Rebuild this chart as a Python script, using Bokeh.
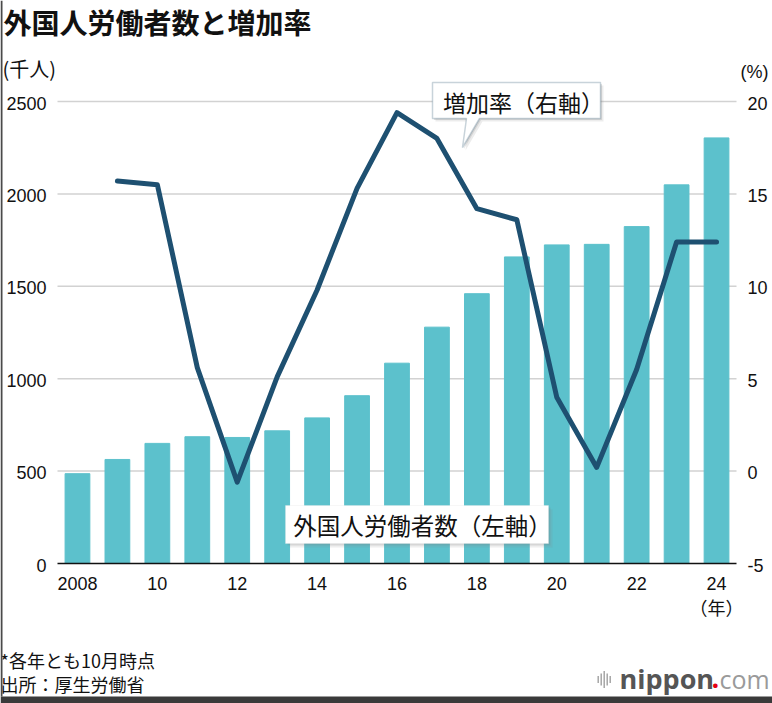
from bokeh.plotting import figure
from bokeh.models import Range1d, Label, PolyAnnotation
from bokeh.core.properties import value
from bokeh.embed import file_html
from bokeh.resources import INLINE

# ---- data ----
years = list(range(2008, 2025))
workers = [486, 563, 650, 686, 682, 718, 788, 908, 1084, 1279, 1460, 1659, 1724, 1727, 1823, 2049, 2303]
rate_years = list(range(2009, 2025))
rates = [15.7, 15.5, 5.6, -0.6, 5.1, 9.8, 15.3, 19.4, 18.0, 14.2, 13.6, 4.0, 0.2, 5.5, 12.4, 12.4]
left_ticks = [0, 500, 1000, 1500, 2000, 2500]
left_tick_labels = ["0", "500", "1000", "1500", "2000", "2500"]
right_ticks = [-5, 0, 5, 10, 15, 20]
right_tick_labels = ["-5", "0", "5", "10", "15", "20"]
x_ticks = [2008, 2010, 2012, 2014, 2016, 2018, 2020, 2022, 2024]
x_tick_labels = ["2008", "10", "12", "14", "16", "18", "20", "22", "24"]

title_text = "外国人労働者数と増加率"
left_unit = "(千人)"
right_unit = "(%)"
x_unit = "（年）"
rate_label = "増加率（右軸）"
workers_label = "外国人労働者数（左軸）"
note1 = "*各年とも10月時点"
note2 = "出所：厚生労働省"

BAR = "#5cc1cc"
LINE = "#1e5071"
INK = "#111111"
JP = "Noto Sans CJK JP"
NUM = "Liberation Sans"

W, H = 772, 703
# plot area in canvas pixels
FX0, FX1 = 57, 736
FY_TOP, FY_BOT = 101, 563
PXU = (FX1 - FX0) / 17.0          # pixels per year
PYU = (FY_BOT - FY_TOP) / 2500.0  # pixels per thousand

xs0 = 2007.5 - FX0 / PXU
xs1 = xs0 + W / PXU
ys1 = FY_BOT / PYU
ys0 = ys1 - H / PYU


def xd(px):
    return xs0 + px / PXU


def yd(py):
    return ys1 - py / PYU


p = figure(width=W, height=H, output_backend="svg", toolbar_location=None,
           x_range=Range1d(xs0, xs1), y_range=Range1d(ys0, ys1),
           x_axis_location=None, y_axis_location=None, min_border=0,
           background_fill_color="white", border_fill_color="white")
p.outline_line_color = None
p.grid.visible = False
p.extra_y_ranges = {"pct": Range1d(ys0 / 100.0 - 5, ys1 / 100.0 - 5)}

# grid lines
n_grid = len(left_ticks) - 1
p.segment(x0=[xd(FX0)] * n_grid, x1=[xd(FX1)] * n_grid, y0=left_ticks[1:], y1=left_ticks[1:],
          line_color="#d2d2d2", line_width=1.5)

# data marks
p.vbar(x=years, top=workers, width=0.62, color=BAR)
p.segment(x0=[xd(FX0)], x1=[xd(FX1)], y0=[0], y1=[0], line_color=INK, line_width=1.6)
p.line(rate_years, rates, y_range_name="pct", line_width=5, color=LINE,
       line_join="round", line_cap="round")

# tick labels
p.text(x=[xd(46)] * len(left_ticks), y=left_ticks, text=left_tick_labels,
       text_font=value(NUM), text_font_size=value("18px"), text_color=INK,
       text_align="right", text_baseline="middle", y_offset=1.5)
p.text(x=[xd(747)] * len(right_ticks), y=right_ticks, text=right_tick_labels,
       y_range_name="pct", text_font=value(NUM), text_font_size=value("18px"), text_color=INK,
       text_align="left", text_baseline="middle", y_offset=1.5)
p.text(x=x_ticks, y=[yd(583)] * len(x_ticks), text=x_tick_labels,
       text_font=value(NUM), text_font_size=value("18px"), text_color=INK,
       text_align="center", text_baseline="middle")


def poly(pts, dxp=0, dyp=0, **kw):
    return PolyAnnotation(xs=[xd(a + dxp) for a, b in pts], ys=[yd(b + dyp) for a, b in pts], **kw)


# callout for rate
callout = [(432, 82), (600, 82), (600, 118), (479, 118), (462, 147), (466, 118), (432, 118)]
p.add_layout(poly(callout, 3, 3, fill_color="#888888", fill_alpha=0.16, line_color=None))
p.add_layout(poly(callout, 1.5, 1.5, fill_color="#777777", fill_alpha=0.2, line_color=None))
p.add_layout(poly(callout, fill_color="white", fill_alpha=1.0, line_color="#4a6d86", line_width=1.5))
p.add_layout(Label(x=xd(523), y=yd(101), text=rate_label, text_font=JP, text_font_size="23px",
                   text_color=INK, text_align="center", text_baseline="middle"))

# box for workers
box = [(285, 505), (548, 505), (548, 543), (285, 543)]
p.add_layout(poly(box, 4, 4, fill_color="#888888", fill_alpha=0.14, line_color=None))
p.add_layout(poly(box, 2, 2, fill_color="#777777", fill_alpha=0.2, line_color=None))
p.add_layout(poly(box, fill_color="white", fill_alpha=1.0, line_color="#e4e4e4", line_width=1))
p.add_layout(Label(x=xd(422), y=yd(524), text=workers_label, text_font=JP, text_font_size="23.5px",
                   text_color=INK, text_align="center", text_baseline="middle"))

# texts
p.add_layout(Label(x=xd(3), y=yd(21), text=title_text, text_font=JP, text_font_size="28px",
                   text_font_style="bold", text_color=INK, text_baseline="middle"))
p.add_layout(Label(x=xd(2), y=yd(68), text=left_unit, text_font=JP, text_font_size="20px",
                   text_color=INK, text_baseline="middle"))
p.add_layout(Label(x=xd(740), y=yd(71), text=right_unit, text_font=NUM, text_font_size="18px",
                   text_color=INK, text_baseline="middle"))
p.add_layout(Label(x=2024, y=yd(606), text=x_unit, text_font=JP, text_font_size="18px",
                   text_color=INK, text_align="center", text_baseline="middle"))
p.add_layout(Label(x=xd(0), y=yd(659), text=note1, text_font=JP, text_font_size="18px",
                   text_color=INK, text_baseline="middle"))
p.add_layout(Label(x=xd(0), y=yd(683), text=note2, text_font=JP, text_font_size="18px",
                   text_color=INK, text_baseline="middle"))

# logo
bar_x = [597, 600, 603, 606, 609]
bar_h = [7, 12, 17, 12, 7]
for bx, bh in zip(bar_x, bar_h):
    p.add_layout(poly([(bx, 679 - bh / 2), (bx + 1.4, 679 - bh / 2), (bx + 1.4, 679 + bh / 2), (bx, 679 + bh / 2)],
                      fill_color="#a0a0a0", fill_alpha=1.0, line_color=None))
p.add_layout(Label(x=xd(619), y=yd(678), text="nippon", text_font="Open Sans", text_font_size="27px",
                   text_font_style="bold", text_color="#555555", text_baseline="middle"))
p.add_layout(Label(x=xd(711), y=yd(678), text=".", text_font="Open Sans", text_font_size="27px",
                   text_font_style="bold", text_color="#e60012", text_baseline="middle"))
p.add_layout(Label(x=xd(719), y=yd(678), text="com", text_font="Open Sans", text_font_size="25px",
                   text_color="#9a9a9a", text_baseline="middle"))

# screenshot frame edges
p.add_layout(poly([(0, 0), (2, 0), (2, 696), (0, 696)], fill_color="#4a4a4a", fill_alpha=1.0, line_color=None))
p.add_layout(poly([(0, 696), (W, 696), (W, H), (0, H)], fill_color="#3a3a3a", fill_alpha=1.0, line_color=None))

open("out.html", "w").write(file_html(p, INLINE))
